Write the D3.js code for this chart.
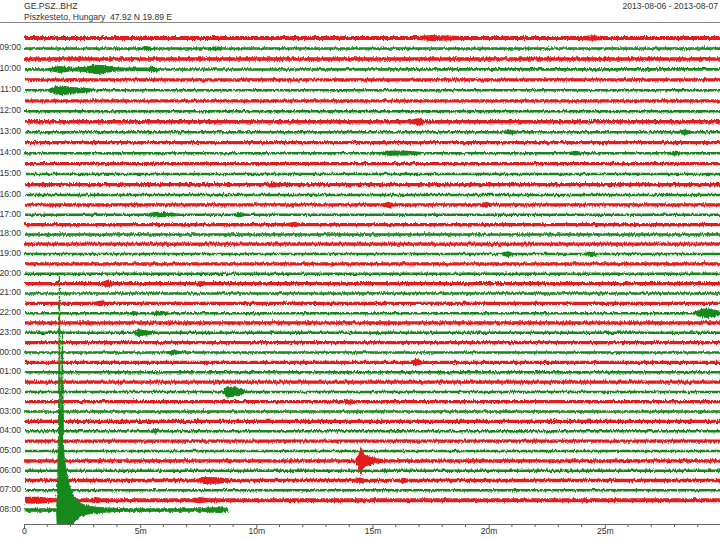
<!DOCTYPE html>
<html><head><meta charset="utf-8">
<script src="https://cdn.jsdelivr.net/npm/d3@7"></script>
<style>html,body{margin:0;padding:0;background:#fff;}svg{display:block;}</style>
</head><body><svg id="c" width="720" height="540"></svg>
<script>
// ---- data ----
const stationId = "GE.PSZ..BHZ";
const stationInfo = "Piszkesteto, Hungary  47.92 N 19.89 E";
const dateRange = "2013-08-06 - 2013-08-07";
const hourLabels = ["09:00","10:00","11:00","12:00","13:00","14:00","15:00","16:00","17:00","18:00","19:00","20:00",
  "21:00","22:00","23:00","00:00","01:00","02:00","03:00","04:00","05:00","06:00","07:00","08:00"];
const xTicks = [0,5,10,15,20,25];
const xTickLabels = ["0","5m","10m","15m","20m","25m"];
const minorTicks = d3.range(1,30).filter(m => m % 5 !== 0);
// background noise level of each 30-minute line (counts)
const lineNoise = [190,130,175,130,165,125,165,125,165,125,165,125,165,125,165,125,
  165,125,165,125,165,125,165,125,165,125,165,125,165,125,165,125,
  165,125,165,125,165,125,165,125,165,125,165,125,175,125,200,130];
const lastLineEndMin = 8.73;
// bursts: [line, [[minute, upAmp, downAmp?], ...]]
const events = [
  [0, [[16.9,190],[17.5,290],[18.2,240],[18.8,190]]],
  [0, [[24.0,190],[24.4,270],[24.9,190]]],
  [1, [[4.9,125],[5.2,240],[5.5,125]]],
  [1, [[7.9,125],[8.2,230],[8.5,125]]],
  [3, [[1.0,125],[1.5,350],[2.0,190],[2.6,260],[3.0,470],[3.3,440],[3.8,240],[4.3,180],[5.3,180],[5.5,300],[5.8,125]]],
  [5, [[1.0,125],[1.3,420],[1.6,480],[2.0,330],[2.6,270],[3.0,125]]],
  [8, [[16.6,165],[16.9,340],[17.2,165]]],
  [9, [[20.6,125],[20.9,240],[21.2,125]]],
  [9, [[28.1,125],[28.4,270],[28.7,125]]],
  [11, [[15.3,125],[15.6,260],[16.5,240],[17.1,125]]],
  [11, [[23.4,125],[23.7,240],[24.0,125]]],
  [11, [[27.7,125],[28.0,270],[28.3,125]]],
  [14, [[10.4,165],[10.67,310],[10.9,165]]],
  [16, [[15.4,165],[15.66,310],[15.9,165]]],
  [16, [[19.6,165],[19.84,280],[20.1,165]]],
  [17, [[5.2,125],[5.6,280],[6.2,240],[6.6,125]]],
  [17, [[9.0,125],[9.2,290],[9.5,125]]],
  [18, [[11.3,165],[11.57,270],[11.8,165]]],
  [21, [[20.5,125],[20.78,290],[21.0,125]]],
  [21, [[24.1,125],[24.35,290],[24.6,125]]],
  [24, [[3.3,165],[3.55,350],[3.8,165]]],
  [24, [[7.3,165],[7.57,260],[7.8,165]]],
  [26, [[3.0,165],[3.27,290],[3.5,165]]],
  [27, [[4.5,125],[4.7,240],[4.9,125]]],
  [27, [[5.4,125],[5.8,240],[6.3,125]]],
  [27, [[28.8,125],[29.1,420],[29.4,480],[29.7,350],[30,190]]],
  [29, [[4.7,125],[4.85,350],[5.2,260],[5.6,125]]],
  [31, [[6.1,125],[6.4,280],[6.7,125]]],
  [32, [[16.6,165],[16.87,350],[17.1,165]]],
  [35, [[8.5,125],[8.7,560],[9.0,480],[9.3,360],[9.5,125]]],
  [36, [[13.7,165],[13.94,270],[14.2,165]]],
  [39, [[5.4,125],[5.6,250],[5.8,125]]],
  [42, [[14.2,165],[14.35,570],[14.45,1450,1550],[14.55,880,780],[14.7,540],[14.9,370],[15.2,240],[15.5,165]]],
  [44, [[7.4,175],[7.7,350],[8.3,320],[8.9,175]]],
  [44, [[14.2,175],[14.4,300],[14.6,175]]],
  [44, [[16.1,175],[16.3,270],[16.5,175]]],
  [46, [[0,330],[0.6,350],[1.3,200]]],
  [46, [[2.8,200],[3.05,310],[3.3,200]]],
  [46, [[7.2,200],[7.5,310],[7.9,200]]],
  [47, [[1.36,130],[1.40,2000,2500],[1.44,8000,2500],[1.48,23700,2500],[1.52,9000,2500],[1.56,10000,2500],
        [1.61,17900,2500],[1.66,6000,2500],[1.70,5000,2500],[1.81,3500,2500],[1.89,2700,2200],[1.98,2000,1800],
        [2.11,1300,1300],[2.28,900,900],[2.41,650,650],[2.62,450],[2.84,350],[3.27,240],[3.92,160],[4.5,130]]],
  [47, [[7.6,130],[8.0,220],[8.5,220],[8.73,130]]]
];

// ---- layout ----
const svg = d3.select("#c");
const W = 720, H = 540;
const x = d3.scaleLinear().domain([0,30]).range([24, 721]);
const yLine = d3.scaleLinear().domain([0,15,47]).range([37,194,509]);
const amp = d3.scaleLinear().domain([0,100]).range([0,1]);
const colors = ["#e41c1c", "#18881a"];
const font = "'Liberation Sans', Arial, sans-serif";
const axisY = 524;

svg.append("rect").attr("width",W).attr("height",H).attr("fill","#fff");

// jagged-edge rendering filter for the traces
const defs = svg.append("defs");
const filt = defs.append("filter").attr("id","jag").attr("filterUnits","userSpaceOnUse")
  .attr("x",0).attr("y",20).attr("width",W).attr("height",H-20);
filt.append("feTurbulence").attr("type","turbulence").attr("baseFrequency","0.9 0.08").attr("numOctaves",1).attr("seed",3).attr("result","n");
filt.append("feDisplacementMap").attr("in","SourceGraphic").attr("in2","n").attr("scale",3)
  .attr("xChannelSelector","R").attr("yChannelSelector","G");

// header
svg.append("text").attr("x",24).attr("y",8.5).text(stationId)
  .attr("font-family",font).attr("font-size",8.6).attr("fill","#333");
svg.append("text").attr("x",24).attr("y",19.5).text(stationInfo).style("white-space","pre").attr("xml:space","preserve")
  .attr("font-family",font).attr("font-size",8.6).attr("fill","#333");
svg.append("text").attr("x",718).attr("y",8.5).attr("text-anchor","end").text(dateRange)
  .attr("font-family",font).attr("font-size",8.6).attr("fill","#333");
svg.append("line").attr("x1",0).attr("x2",W).attr("y1",22.5).attr("y2",22.5)
  .attr("stroke","#888").attr("stroke-width",1);

// clip
defs.append("clipPath").attr("id","plot").append("rect")
  .attr("x",x(0)).attr("y",24).attr("width",x(30)-x(0)).attr("height",axisY-24);

const g = svg.append("g").attr("clip-path","url(#plot)").append("g").attr("filter","url(#jag)");

const nLines = lineNoise.length;
for (let i = 0; i < nLines; i++) {
  const base = lineNoise[i];
  const end = (i === nLines-1) ? lastLineEndMin : 30;
  let pts = [{t:0, up:base, dn:base}];
  events.filter(e => e[0] === i).forEach(e => {
    e[1].forEach(p => pts.push({t:p[0], up:p[1], dn:(p.length>2?p[2]:p[1])}));
  });
  pts.push({t:end, up:base, dn:base});
  pts.sort((a,b)=>a.t-b.t);
  const y0 = yLine(i);
  const area = d3.area()
    .x(d => x(d.t))
    .y0(d => y0 + amp(d.dn))
    .y1(d => y0 - amp(d.up));
  const p = g.append("path").datum(pts).attr("d", area).attr("fill", colors[i % 2]);
  if (i === nLines-1) p.attr("stroke", colors[i % 2]).attr("stroke-width", 0.9).attr("stroke-linejoin","round");
}

// hour labels
svg.append("g").selectAll("text").data(hourLabels).join("text")
  .attr("x",21).attr("y",(d,k)=>yLine(2*k+1)+3)
  .attr("text-anchor","end").text(d=>d)
  .attr("font-family",font).attr("font-size",8.6).attr("fill","#333");

// x axis
const axis = d3.axisBottom(x).tickValues(xTicks).tickFormat((d,k)=>xTickLabels[k]).tickSize(4).tickSizeOuter(0);
const ag = svg.append("g").attr("transform",`translate(0,${axisY})`).call(axis);
ag.select(".domain").attr("stroke","#666");
ag.selectAll(".tick line").attr("stroke","#666");
ag.selectAll(".tick text").attr("font-family",font).attr("font-size",8.6).attr("fill","#333").attr("dy","0.55em").attr("y",5);
ag.append("g").selectAll("line").data(minorTicks).join("line")
  .attr("x1",d=>x(d)).attr("x2",d=>x(d)).attr("y1",0).attr("y2",3).attr("stroke","#666");
</script></body></html>
